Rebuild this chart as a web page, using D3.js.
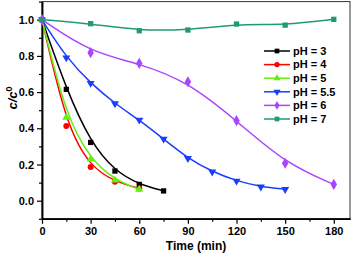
<!DOCTYPE html>
<html>
<head>
<meta charset="utf-8">
<script src="https://cdn.jsdelivr.net/npm/d3@7"></script>
<style>
  body { margin: 0; background: #fff; }
  svg text { font-family: Arial, "Liberation Sans", sans-serif; font-weight: bold; }
</style>
</head>
<body>
<svg></svg>
<script>
const size = {w: 353, h: 254};
const svg = d3.select('svg').attr('width', size.w).attr('height', size.h);

// data
const seriesNames = ['pH = 3', 'pH = 4', 'pH = 5', 'pH = 5.5', 'pH = 6', 'pH = 7'];
const colors = ['#000000', '#ff0000', '#66ee11', '#1a3cff', '#aa44ff', '#1f9a77'];
const symbols = [d3.symbolSquare, d3.symbolCircle, d3.symbolTriangle, 'down', d3.symbolDiamond, d3.symbolSquare];

const ph3 = [[0, 1], [15, 0.615], [30, 0.322], [45, 0.164], [60, 0.09], [75, 0.054]];
const ph4 = [[0, 1], [15, 0.413], [30, 0.186], [45, 0.105], [60, 0.068]];
const ph5 = [[0, 1], [15, 0.46], [30, 0.229], [45, 0.114], [60, 0.062]];
const ph55 = [[0, 1], [15, 0.79], [30, 0.649], [45, 0.536], [60, 0.446], [75, 0.341],
              [90, 0.234], [105, 0.16], [120, 0.109], [135, 0.077], [150, 0.063]];
const ph6 = [[0, 1], [30, 0.818], [60, 0.759], [90, 0.657], [120, 0.442], [150, 0.207], [180, 0.09]];
const ph7 = [[0, 1], [30, 0.978], [60, 0.939], [90, 0.943], [120, 0.976], [150, 0.97], [180, 1.002]];
const allSeries = [ph3, ph4, ph5, ph55, ph6, ph7];

const xTicks = [0, 30, 60, 90, 120, 150, 180];
const yTicks = [0.0, 0.2, 0.4, 0.6, 0.8, 1.0];

// scales
const x = d3.scaleLinear().domain([0, 190]).range([42, 350]);
const y = d3.scaleLinear().domain([-0.1, 1.1]).range([218.8, 1.6]);

// frame (top + right)
svg.append('rect')
    .attr('x', x(0)).attr('y', y(1.1))
    .attr('width', x(190) - x(0)).attr('height', y(-0.1) - y(1.1))
    .attr('fill', 'none').attr('stroke', '#333').attr('stroke-width', 1);

// axes
const xAxis = d3.axisBottom(x).tickValues(xTicks).tickSize(5).tickSizeOuter(0).tickPadding(3);
const xMinor = d3.axisBottom(x).tickValues(d3.range(15, 190, 30)).tickSize(3).tickFormat('').tickSizeOuter(0);
const yAxis = d3.axisLeft(y).tickValues(yTicks).tickSize(5).tickSizeOuter(0).tickPadding(3)
    .tickFormat(d3.format('.1f'));
const yMinor = d3.axisLeft(y).tickValues([-0.1, 0.1, 0.3, 0.5, 0.7, 0.9, 1.1]).tickSize(3).tickFormat('').tickSizeOuter(0);

function styleAxis(g) {
    g.select('.domain').attr('stroke', '#000').attr('stroke-width', 1.5);
    g.selectAll('.tick line').attr('stroke', '#000').attr('stroke-width', 1.2);
    g.selectAll('.tick text').attr('fill', '#000').style('font-size', '11px');
}

svg.append('g').attr('transform', `translate(0,${y(-0.1)})`).call(xMinor).call(styleAxis);
svg.append('g').attr('transform', `translate(0,${y(-0.1)})`).call(xAxis).call(styleAxis);
svg.append('g').attr('transform', `translate(${x(0)},0)`).call(yMinor).call(styleAxis);
svg.append('g').attr('transform', `translate(${x(0)},0)`).call(yAxis).call(styleAxis);

// axis titles
svg.append('text')
    .attr('x', 196).attr('y', 250)
    .attr('text-anchor', 'middle')
    .style('font-size', '12px')
    .text('Time (min)');

const yLab = svg.append('text')
    .attr('transform', 'translate(17,98) rotate(-90)')
    .attr('text-anchor', 'middle')
    .style('font-size', '13px')
    .style('font-style', 'italic');
yLab.append('tspan').text('c/c');
yLab.append('tspan').attr('dy', -5).style('font-size', '9px').style('font-style', 'normal').text('0');

// lines + markers
const line = d3.line()
    .x(d => x(d[0]))
    .y(d => y(d[1]))
    .curve(d3.curveBasis);

function symbolPath(s, sz) {
    if (s === 'down') {
        return d3.symbol(d3.symbolTriangle, sz)();
    }
    return d3.symbol(s, sz)();
}

const seriesG = svg.append('g').classed('series', true);
allSeries.forEach((data, i) => {
    seriesG.append('path')
        .attr('d', line(data))
        .attr('fill', 'none')
        .attr('stroke', colors[i])
        .attr('stroke-width', 1.5);

    seriesG.selectAll(null)
        .data(data)
        .join('path')
        .attr('d', symbolPath(symbols[i], i === 4 ? 36 : 28))
        .attr('transform', d => `translate(${x(d[0])},${y(d[1])})` + (symbols[i] === 'down' ? ' rotate(180)' : ''))
        .attr('fill', colors[i]);
});

// legend
const legend = svg.append('g').attr('transform', 'translate(264,51)');
seriesNames.forEach((name, i) => {
    const row = legend.append('g').attr('transform', `translate(0,${i * 13.6})`);
    row.append('line')
        .attr('x1', 0).attr('x2', 26)
        .attr('stroke', colors[i]).attr('stroke-width', 1.5);
    row.append('path')
        .attr('d', symbolPath(symbols[i], 22))
        .attr('transform', 'translate(13,0)' + (symbols[i] === 'down' ? ' rotate(180)' : ''))
        .attr('fill', colors[i]);
    row.append('text')
        .attr('x', 29).attr('dy', '0.35em')
        .style('font-size', '11px')
        .text(name);
});
</script>
</body>
</html>
